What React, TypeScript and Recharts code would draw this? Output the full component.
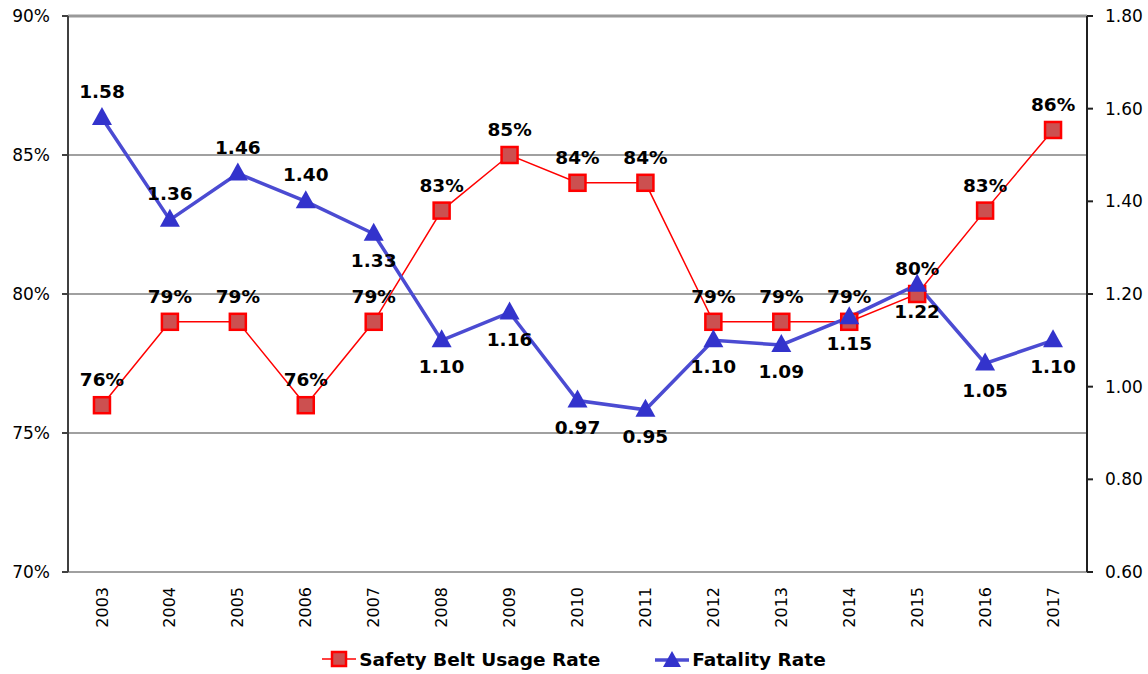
import React from "react";
import {
  ComposedChart,
  Line,
  XAxis,
  YAxis,
  CartesianGrid,
  Legend,
  ReferenceLine,
} from "recharts";

const years = [
  "2003", "2004", "2005", "2006", "2007", "2008", "2009", "2010",
  "2011", "2012", "2013", "2014", "2015", "2016", "2017",
];
const beltUsage = [76, 79, 79, 76, 79, 83, 85, 84, 84, 79, 79, 79, 80, 83, 85.9];
const fatalityRate = [1.58, 1.36, 1.46, 1.4, 1.33, 1.1, 1.16, 0.97, 0.95, 1.1, 1.09, 1.15, 1.22, 1.05, 1.1];
const leftTicks = [70, 75, 80, 85, 90];
const rightTicks = [0.6, 0.8, 1.0, 1.2, 1.4, 1.6, 1.8];
const frameTicks = [0, 1, 2, 3, 4, 5, 6, 7, 8, 9, 10, 11, 12, 13, 14, 15];

const data = years.map((year, i) => ({
  year,
  belt: beltUsage[i],
  fatality: fatalityRate[i],
}));

const FONT = "'DejaVu Sans', Verdana, sans-serif";
const RED = "#ff0000";
const BLUE = "#4b4bd2";
const AXIS = "#404040";

const SquareDot = (props: any) => {
  const { cx, cy } = props;
  if (cx == null || cy == null) return null;
  return (
    <rect x={cx - 8} y={cy - 8} width={16} height={16} fill="#cc5050" stroke={RED} strokeWidth={2.5} />
  );
};

const TriangleDot = (props: any) => {
  const { cx, cy } = props;
  if (cx == null || cy == null) return null;
  return (
    <path d={`M${cx},${cy - 11} L${cx + 10},${cy + 7} L${cx - 10},${cy + 7} Z`} fill="#3333cc" />
  );
};

const beltLabel = (props: any) => {
  const { x, y, value } = props;
  return (
    <text x={x} y={y - 19} textAnchor="middle" fontFamily={FONT} fontWeight="bold" fontSize={18.5} fill="#000">
      {`${Math.round(value)}%`}
    </text>
  );
};

const fatalityLabel = (props: any) => {
  const { x, y, value, index } = props;
  const above = index < 4;
  return (
    <text
      x={x}
      y={above ? y - 20 : y + 33}
      textAnchor="middle"
      fontFamily={FONT}
      fontWeight="bold"
      fontSize={18.5}
      fill="#000"
    >
      {Number(value).toFixed(2)}
    </text>
  );
};

const YearTick = (props: any) => {
  const { x, y, payload } = props;
  const ty = y + 13;
  return (
    <text
      x={x}
      y={ty}
      dy="0.35em"
      textAnchor="end"
      transform={`rotate(-90, ${x}, ${ty})`}
      fontFamily={FONT}
      fontSize={16}
      fill="#000"
    >
      {payload.value}
    </text>
  );
};

const LegendContent = () => (
  <div
    style={{
      display: "flex",
      justifyContent: "center",
      gap: 55,
      fontFamily: FONT,
      fontWeight: "bold",
      fontSize: 18.5,
      color: "#000",
      height: 30,
      alignItems: "center",
    }}
  >
    <div style={{ display: "flex", alignItems: "center" }}>
      <svg width={34} height={20}>
        <line x1={0} y1={10} x2={34} y2={10} stroke={RED} strokeWidth={1.5} />
        <rect x={10} y={3} width={14} height={14} fill="#cc5050" stroke={RED} strokeWidth={2.5} />
      </svg>
      <span style={{ marginLeft: 3 }}>Safety Belt Usage Rate</span>
    </div>
    <div style={{ display: "flex", alignItems: "center" }}>
      <svg width={34} height={20}>
        <line x1={0} y1={11} x2={34} y2={11} stroke={BLUE} strokeWidth={3.5} />
        <path d="M17,2 L26,18 L8,18 Z" fill="#3333cc" />
      </svg>
      <span style={{ marginLeft: 3 }}>Fatality Rate</span>
    </div>
  </div>
);

export default function App() {
  return (
    <div style={{ position: "absolute", left: 0, top: 0, width: 1148, height: 674, background: "#fff" }}>
      <ComposedChart width={1148} height={674} data={data} margin={{ top: 16, right: 0, left: 0, bottom: 0 }}>
        <CartesianGrid yAxisId="left" vertical={false} stroke="#808080" strokeWidth={1.5} />
        <XAxis
          xAxisId="frame"
          type="number"
          domain={[0, 15]}
          ticks={frameTicks}
          allowDataOverflow
          tick={false}
          tickSize={7}
          height={0}
          stroke={AXIS}
          strokeWidth={2}
        />
        <XAxis
          xAxisId="cat"
          dataKey="year"
          scale="band"
          axisLine={false}
          tickLine={false}
          tickSize={0}
          tick={<YearTick />}
          interval={0}
          height={72}
        />
        <YAxis
          yAxisId="left"
          domain={[70, 90]}
          ticks={leftTicks}
          tickFormatter={(v: number) => `${v}%`}
          width={68}
          tickSize={6}
          tickMargin={12}
          stroke={AXIS}
          strokeWidth={2}
          tick={{ fontFamily: FONT, fontSize: 17, fill: "#000" }}
        />
        <YAxis
          yAxisId="right"
          orientation="right"
          domain={[0.6, 1.8]}
          ticks={rightTicks}
          tickFormatter={(v: number) => v.toFixed(2)}
          width={61}
          tickSize={6}
          tickMargin={12}
          stroke="#202020"
          strokeWidth={2}
          tick={{ fontFamily: FONT, fontSize: 17, fill: "#000" }}
        />
        <ReferenceLine yAxisId="left" xAxisId="cat" y={90} stroke="#999999" strokeWidth={3} />
        <Legend verticalAlign="bottom" height={30} content={<LegendContent />} />
        <Line
          xAxisId="cat"
          yAxisId="left"
          dataKey="belt"
          stroke={RED}
          strokeWidth={1.5}
          dot={<SquareDot />}
          activeDot={false}
          label={beltLabel}
          isAnimationActive={false}
        />
        <Line
          xAxisId="cat"
          yAxisId="right"
          dataKey="fatality"
          stroke={BLUE}
          strokeWidth={3.5}
          dot={<TriangleDot />}
          activeDot={false}
          label={fatalityLabel}
          isAnimationActive={false}
        />
      </ComposedChart>
    </div>
  );
}
